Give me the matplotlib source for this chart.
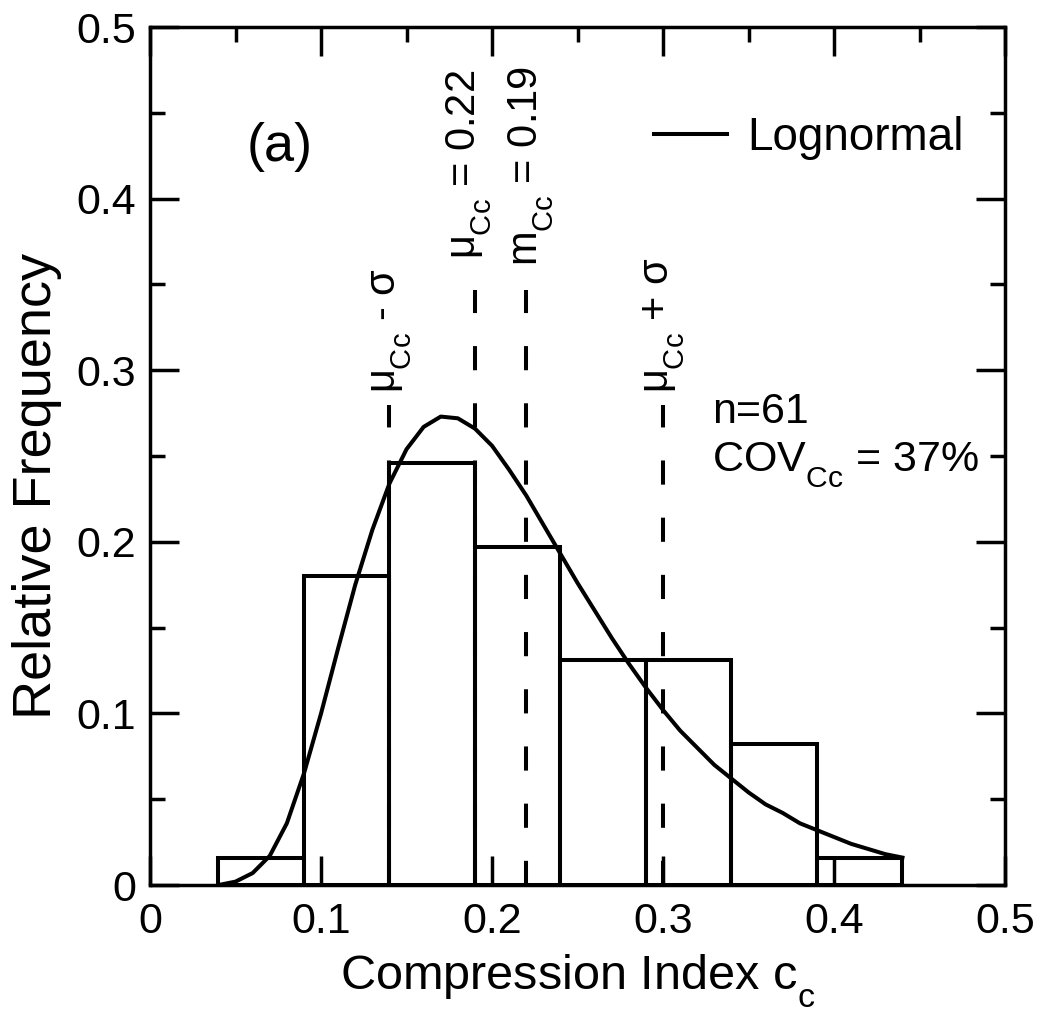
import matplotlib

matplotlib.use('Agg')
import matplotlib.pyplot as plt
import matplotlib._mathtext as mathtext_internal
from matplotlib.ticker import MultipleLocator

plt.rcParams['font.family'] = ['Liberation Sans', 'DejaVu Sans']
plt.rcParams['mathtext.fontset'] = 'custom'
plt.rcParams['mathtext.rm'] = 'Liberation Sans'
plt.rcParams['mathtext.it'] = 'Liberation Sans'
plt.rcParams['mathtext.bf'] = 'Liberation Sans:bold'
# drop subscripts a bit lower, like the original figure
mathtext_internal.FontConstantsBase.sub1 = 0.7

# histogram bins (left edges) and relative frequencies, n = 61
bin_left = [0.04, 0.09, 0.14, 0.19, 0.24, 0.29, 0.34, 0.39]
bin_width = 0.05
rel_freq = [0.016, 0.180, 0.246, 0.197, 0.131, 0.131, 0.082, 0.016]

# lognormal fit curve
curve_x = [0.04, 0.05, 0.06, 0.07, 0.08, 0.09, 0.10, 0.11, 0.12, 0.13,
           0.14, 0.15, 0.16, 0.17, 0.18, 0.19, 0.20, 0.21, 0.22, 0.23,
           0.24, 0.25, 0.26, 0.27, 0.28, 0.29, 0.30, 0.31, 0.32, 0.33,
           0.34, 0.35, 0.36, 0.37, 0.38, 0.39, 0.40, 0.41, 0.42, 0.43, 0.44]
curve_y = [0.000, 0.002, 0.007, 0.017, 0.036, 0.065, 0.100, 0.138, 0.175, 0.207,
           0.234, 0.254, 0.267, 0.273, 0.272, 0.266, 0.256, 0.242, 0.227, 0.210,
           0.193, 0.176, 0.160, 0.144, 0.129, 0.115, 0.102, 0.090, 0.080, 0.070,
           0.062, 0.054, 0.047, 0.042, 0.036, 0.032, 0.028, 0.024, 0.021, 0.018, 0.016]

# reference lines: mu - sigma, mu, median, mu + sigma
ref_x = [0.14, 0.19, 0.22, 0.30]
ref_top = [0.28, 0.347, 0.347, 0.28]
ref_labels = [r'$\mu_{Cc}$ - σ', r'$\mu_{Cc}$ = 0.22', r'$m_{Cc}$ = 0.19', r'$\mu_{Cc}$ + σ']
ref_label_x = [0.1417, 0.187, 0.223, 0.301]
ref_label_y = [0.287, 0.365, 0.361, 0.287]

xtick_vals = [0, 0.1, 0.2, 0.3, 0.4, 0.5]
xtick_labels = ['0', '0.1', '0.2', '0.3', '0.4', '0.5']
ytick_vals = [0, 0.1, 0.2, 0.3, 0.4, 0.5]
ytick_labels = ['0', '0.1', '0.2', '0.3', '0.4', '0.5']

fig = plt.figure(figsize=(10.5, 10.13), dpi=100)
ax = fig.add_axes([0.1429, 0.1263, 0.8143, 0.847])

ax.bar(bin_left, rel_freq, width=bin_width, align='edge', fill=False,
       edgecolor='black', linewidth=2.9)
ax.plot(curve_x, curve_y, color='black', linewidth=2.9, label='Lognormal')

for x, top in zip(ref_x, ref_top):
    ax.plot([x, x], [0, top], color='black', linewidth=2.9, linestyle=(0, (6, 8.2)))

for lab, x, y in zip(ref_labels, ref_label_x, ref_label_y):
    ax.text(x, y, lab, rotation=90, ha='center', va='bottom', fontsize=30)

ax.text(0.113, 0.86, '(a)', transform=ax.transAxes, ha='left', va='center', fontsize=39)
ax.text(0.3287, 0.269, 'n=61', ha='left', va='baseline', fontsize=31)
ax.text(0.3287, 0.2407, r'COV$_{Cc}$ = 37%', ha='left', va='baseline', fontsize=31)

ax.legend(loc='center right', bbox_to_anchor=(0.952, 0.871), frameon=False,
          fontsize=33, handlelength=1.6, handletextpad=0.45, borderpad=0,
          borderaxespad=0)

ax.set_xlim(0, 0.5)
ax.set_ylim(0, 0.5)
ax.set_xticks(xtick_vals)
ax.set_xticklabels(xtick_labels)
ax.set_yticks(ytick_vals)
ax.set_yticklabels(ytick_labels)
ax.xaxis.set_minor_locator(MultipleLocator(0.05))
ax.yaxis.set_minor_locator(MultipleLocator(0.05))
ax.tick_params(which='major', direction='in', length=21, width=2.5,
               top=True, right=True, labelsize=31, pad=12)
ax.tick_params(which='minor', direction='in', length=11, width=2.5,
               top=True, right=True, bottom=False, left=True)
ax.tick_params(axis='y', which='major', pad=10)
for sp in ax.spines.values():
    sp.set_linewidth(2.5)

ax.set_xlabel(r'Compression Index c$_c$', fontsize=35, labelpad=8)
ax.set_ylabel('Relative Frequency', fontsize=39)
ax.yaxis.set_label_coords(-0.103, 0.465)

plt.savefig('out.png', dpi=100)
